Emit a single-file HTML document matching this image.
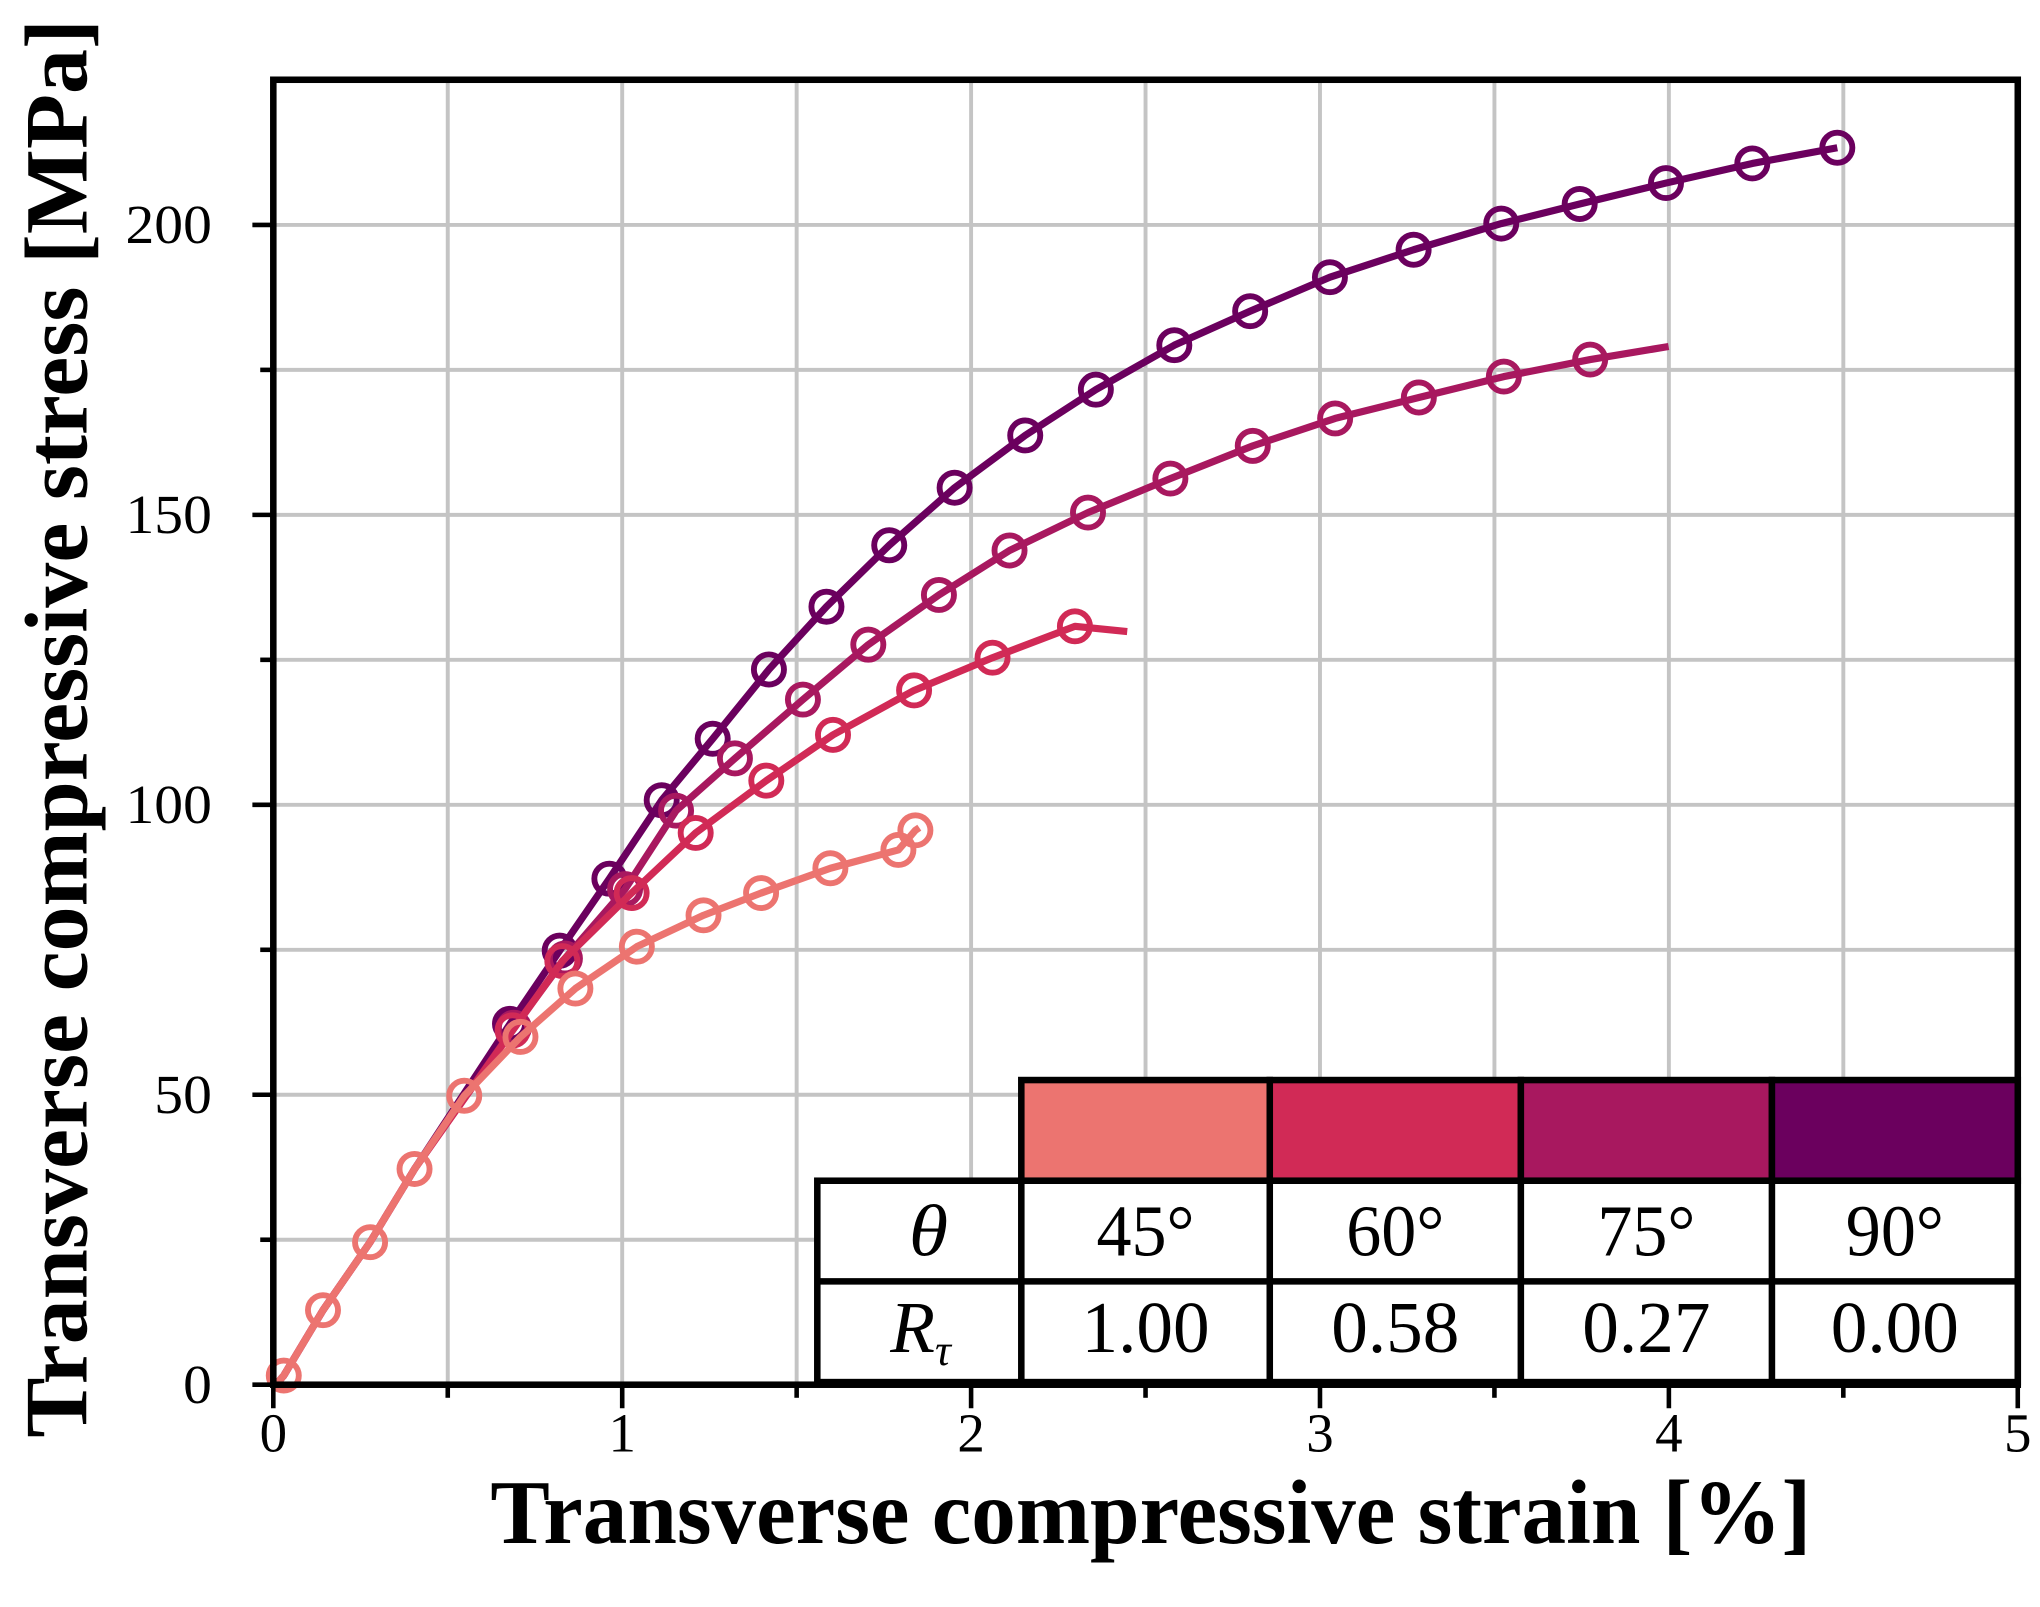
<!DOCTYPE html>
<html><head><meta charset="utf-8"><style>
html,body{margin:0;padding:0;background:#fff;}
svg{display:block;}
text{font-family:"Liberation Serif",serif;}
</style></head><body>
<svg width="2040" height="1607" viewBox="0 0 1560 1229" preserveAspectRatio="none" xmlns="http://www.w3.org/2000/svg">
<rect width="1560" height="1229" fill="#fff"/>
<g stroke="#c4c4c4" stroke-width="3" id="grid"></g>
<g id="series"></g>
<!-- legend -->
<g stroke="#000" stroke-width="5">
<rect x="781" y="826" width="190" height="77" fill="#ec7470"/>
<rect x="971" y="826" width="192" height="77" fill="#d12a56"/>
<rect x="1163" y="826" width="192" height="77" fill="#a8185f"/>
<rect x="1355" y="826" width="188" height="77" fill="#6b005e"/>
<rect x="625" y="903" width="918" height="154" fill="#fff"/>
<line x1="625" y1="980" x2="1543" y2="980"/>
<line x1="781" y1="903" x2="781" y2="1057"/>
<line x1="971" y1="903" x2="971" y2="1057"/>
<line x1="1163" y1="903" x2="1163" y2="1057"/>
<line x1="1355" y1="903" x2="1355" y2="1057"/>
</g>
<g font-size="56" text-anchor="middle" fill="#000" lengthAdjust="spacingAndGlyphs">
<text x="710" y="960" font-style="italic" textLength="30" lengthAdjust="spacingAndGlyphs">θ</text>
<text x="876" y="960" textLength="75" lengthAdjust="spacingAndGlyphs">45°</text>
<text x="1067" y="960" textLength="75" lengthAdjust="spacingAndGlyphs">60°</text>
<text x="1259" y="960" textLength="75" lengthAdjust="spacingAndGlyphs">75°</text>
<text x="1449" y="960" textLength="75" lengthAdjust="spacingAndGlyphs">90°</text>
<text x="704" y="1034" font-style="italic">R<tspan font-size="34" dy="10">τ</tspan></text>
<text x="876" y="1034" textLength="98" lengthAdjust="spacingAndGlyphs">1.00</text>
<text x="1067" y="1034" textLength="98" lengthAdjust="spacingAndGlyphs">0.58</text>
<text x="1259" y="1034" textLength="98" lengthAdjust="spacingAndGlyphs">0.27</text>
<text x="1449" y="1034" textLength="98" lengthAdjust="spacingAndGlyphs">0.00</text>
</g>
<!-- frame -->
<g stroke="#000" fill="none">
<rect x="209" y="61" width="1334" height="998" stroke-width="5"/>
</g>
<g id="ticks" stroke="#000" stroke-width="3.5"></g>
<g font-size="42" fill="#000" id="labels"></g>
<text x="880" y="1180" font-size="70" font-weight="bold" text-anchor="middle" textLength="1010" lengthAdjust="spacingAndGlyphs">Transverse compressive strain [%]</text>
<text transform="translate(66,557) rotate(-90)" font-size="68" font-weight="bold" text-anchor="middle" textLength="1085" lengthAdjust="spacingAndGlyphs">Transverse compressive stress [MPa]</text>
</svg>
<script>
const NS="http://www.w3.org/2000/svg";
function el(p,t,a,txt){const e=document.createElementNS(NS,t);for(const k in a)e.setAttribute(k,a[k]);if(txt!==undefined)e.textContent=txt;document.getElementById(p).appendChild(e);return e;}
const X=v=>209+v*266.8, Y=v=>1059-v*4.435;
for(let i=1;i<10;i++){el('grid','line',{x1:X(i/2),x2:X(i/2),y1:61,y2:1059});}
for(let i=1;i<9;i++){el('grid','line',{x1:209,x2:1543,y1:Y(i*25),y2:Y(i*25)});}
for(let i=0;i<=10;i++){const x=X(i/2);el('ticks','line',{x1:x,x2:x,y1:1059,y2:1059+(i%2?10:18)});}
for(let i=0;i<=8;i++){const y=Y(i*25);el('ticks','line',{x1:209-(i%2?10:16),x2:209,y1:y,y2:y});}
for(let i=0;i<=5;i++)el('labels','text',{x:X(i),y:1110,'text-anchor':'middle'},String(i));
for(let i=0;i<=4;i++){const s=String(i*50);el('labels','text',{x:162,y:Y(i*50)+14,'text-anchor':'end',textLength:s.length*22,lengthAdjust:'spacingAndGlyphs'},s);}
const base=[[211,1059],[217,1052],[247,1002],[283,950],[317,894],[355,838]];
const S=[
 {c:'#ec7470',m:[[217,1052],[247,1002],[283,950],[317,894],[355,838],[398,793],[440,756],[487,724],[538,700],[582,683],[635,664],[687,650],[700,635]],end:[703,633]},
 {c:'#d12a56',m:[[392,788],[430,735],[483,683],[532,637],[586,597],[637,562],[699,528],[759,503],[822,479]],end:[862,483]},
 {c:'#a8185f',m:[[393,786],[432,733],[478,680],[517,620],[562,580],[614,535],[664,493],[718,455],[772,421],[832,392],[895,366],[958,341],[1021,320],[1085,304],[1150,288],[1216,275]],end:[1276,265]},
 {c:'#6b005e',m:[[390,783],[428,727],[466,672],[506,612],[545,565],[588,512],[632,464],[680,417],[730,373],[784,333],[838,298],[898,264],[956,238],[1017,212],[1081,191],[1148,171],[1208,156],[1274,140],[1340,125],[1405,113]],end:null}
];
for(let k=S.length-1;k>=0;k--){const s=S[k];
 let pts=(k===0?[[211,1059]]:base.slice(0,5)).concat(s.m);if(s.end)pts.push(s.end);
 el('series','polyline',{points:pts.map(p=>p.join(',')).join(' '),fill:'none',stroke:s.c,'stroke-width':5.5,'stroke-linejoin':'round'});
 s.m.forEach(p=>el('series','circle',{cx:p[0],cy:p[1],r:11.5,fill:'none',stroke:s.c,'stroke-width':4.5}));
}
</script>
</body></html>
